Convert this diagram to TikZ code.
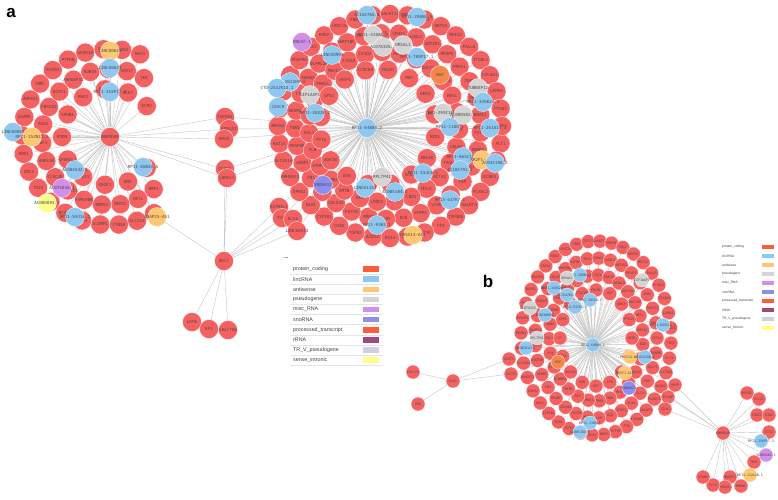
\documentclass[tikz,border=0pt]{standalone}
\usepackage{fontspec}
\setmainfont{Liberation Sans}
\setmonofont{DejaVu Sans Mono}
\usepackage{tikz}
\pgfdeclarelayer{back}
\pgfsetlayers{back,main}

\definecolor{pc}{RGB}{245,96,96}
\definecolor{linc}{RGB}{142,200,240}
\definecolor{anti}{RGB}{255,200,112}
\definecolor{pseudo}{RGB}{212,212,212}
\definecolor{misc}{RGB}{210,142,232}
\definecolor{sno}{RGB}{142,142,240}
\definecolor{proc}{RGB}{245,135,75}
\definecolor{sens}{RGB}{255,255,140}
\definecolor{lpc}{RGB}{255,92,62}
\definecolor{lrrna}{RGB}{160,72,130}
\definecolor{ltrv}{RGB}{208,208,224}

% labels may run past the circle
\newcommand{\glab}[1]{\makebox[0pt][c]{#1}}

\def\ringone{FLT1,SLC38A1,KCNK3,PLXDC2,GALNT5,TSPAN5,FTO,DSTYK,NRP2,RGS4,ACOX2,TGFB2,CD38,CYP1B1,NAV1,EPHX2,ARHGEF3,SLC2A14,RAI14,NRXN3,EFEMP1,THBS2,NUPR1,PDGFRA,GRIK2,ROR2,LRRC15,FBN2,TCF21,GALNT12,PRDM6,SOX2,WNT5A,MEIS2,PALLD,ITGBL1,COL8A1,LAMA4,PTGDS,TBX2}
\def\ringtwo{EDNRB,SULF1,FAP,GLI3,VCAN,SFRP2,DCN,LUM,MMP2,POSTN,COL5A2,SPARC,FN1,AEBP1,PDGFRB,FBN1,ADAM12,CTSK,MXRA5,OLFML2B,COL6A3,SERPINF1,IGFBP7,THY1,CDH11,LOXL2,ANTXR1,MFAP5,PRRX1,ZEB2,TWIST1,SNAI2,FSTL1}
\def\ringthree{CALD1,TAGLN,ACTA2,MYL9,CNN1,TPM2,LMOD1,DES,SMTN,KCNMB1,SYNPO2,PLN,FHL1,JAM2,RBPMS,PRKG1,MRVI1,ITGA8,CASQ2,SGCA,PDE5A,CACNA1C,GUCY1A3,NOTCH3,HEYL,MEF2C,ELN}
\def\ringfour{ABCA8,SCN7A,CFD,DPT,OGN,ADH1B,PI16,C7,GPX3,SVEP1,CCDC80,FBLN1,MGP,DKK3,PTGIS,NID1}

\begin{document}
\begin{tikzpicture}[x=1pt,y=-1pt]
  \tikzstyle{gene}=[circle,draw=white,line width=0.3pt,minimum size=19pt,inner sep=0pt,text=black!70,font=\fontsize{4.2}{4.2}\selectfont\ttfamily]
  \tikzstyle{gsmall}=[gene,minimum size=14pt,font=\fontsize{3.3}{3.3}\selectfont\ttfamily]
  \tikzstyle{link}=[draw=black!22,line width=0.4pt]
  \tikzstyle{legtext}=[anchor=west,inner sep=0pt,text=black!75,font=\fontsize{5.3}{5.3}\selectfont]
  \tikzstyle{legsmall}=[legtext,font=\fontsize{3.3}{3.3}\selectfont]

  \useasboundingbox (0,0) rectangle (778,499);

  % panel a
  \node[font=\bfseries\fontsize{17}{17}\selectfont] (lbla) at (11,13) {a};
  \node[gene,fill=linc] (ha) at (367,128) {\glab{RP11-64B84.2}};
  \node[gene,fill=pc] (la) at (110,137) {\glab{ANKRD49}};

  \coordinate (ca1) at (390,126);
  \coordinate (ca2) at (388,126);
  \coordinate (ca3) at (384,127);
  \coordinate (ca4) at (378,127);

  \foreach \gn [count=\i,evaluate=\i as \ang using 9*\i] in \ringone
    \node[gene,fill=pc] (ao\i) at ([shift={(\ang:112)}]ca1) {\glab{\gn}};
  \foreach \gn [count=\i,evaluate=\i as \ang using 4+360*\i/33] in \ringtwo
    \node[gene,fill=pc] (at\i) at ([shift={(\ang:93)}]ca2) {\glab{\gn}};
  \foreach \gn [count=\i,evaluate=\i as \ang using 2+360*\i/27] in \ringthree
    \node[gene,fill=pc] (ar\i) at ([shift={(\ang:75)}]ca3) {\glab{\gn}};
  \foreach \gn [count=\i,evaluate=\i as \ang using 10+22.5*\i] in \ringfour
    \node[gene,fill=pc] (af\i) at ([shift={(\ang:58)}]ca4) {\glab{\gn}};
  \foreach \px/\py/\ty/\gn [count=\i] in {367/15/linc/AC154765.1,417/17/linc/RP11-286N4.5,
      373/35/pseudo/RP11-420A6.2,383/47/pseudo/AC078325.1,403/45/pseudo/OR5AL1,
      417/57/linc/RP11-788P17.1,302/42/misc/RNU5F-1,332/55/linc/LINC00994,
      290/82/linc/CTC-2022H9.4,277/88/linc/CTD-2532K18.1,310/95/pseudo/EIF1AXP1,
      278/107/linc/CASC9,315/113/linc/RP11-38320.1,440/75/proc/HGF,
      478/88/pseudo/TUBB8P12,483/102/linc/RP11-345K20.1,443/113/pseudo/RP1-299I16.1,
      463/115/pseudo/AC009502.2,450/127/linc/RP11-1180.1,490/128/linc/RP11-261A14.3,
      463/157/linc/RP11-665C16.1,482/160/anti/NR2F1-AS1,495/163/linc/AC034198.2,
      460/170/linc/AC104791.2,382/177/pseudo/RPL7P41,423/173/linc/RP11-553C6.1,
      323/185/sno/SNORA12,365/188/linc/LINC01152,395/192/linc/AC005104.2,
      450/200/linc/RP13-537K7.1,377/225/linc/RP11-93H3.1,413/235/anti/PRSS14-AS1}
    \node[gene,fill=\ty] (as\i) at (\px,\py) {\glab{\gn}};

  \foreach \gn [count=\i,evaluate=\i as \ang using 60+(\i-1)*230/19] in {KIF1B,SLC2A3,CYB5B,SCAMP1,ENAH,NCALD,SYNPO,TRIO,EML2,ROR1,STAT5B,ADAM9,ZNF831,DMD,RSPO3,PTPRB,SH3D19,CDON,PDZD2,NAV3}
    \node[gene,fill=pc] (lo\i) at ([shift={(\ang:88)}]la) {\glab{\gn}};
  \foreach \gn [count=\i,evaluate=\i as \ang using 50+(\i-1)*250/16] in {NRP1,HEY1,MEOX2,RBMS3,FAM198B,PRICKLE1,CLEC3B,ANKS1B,EBF1,RGS5,FBXO32,DCHS1,ARHGAP31,ROBO4,SEMA3C,SOX17,TEK}
    \node[gene,fill=pc] (lt\i) at ([shift={(\ang:68)}]la) {\glab{\gn}};
  \foreach \gn [count=\i,evaluate=\i as \ang using 40+(\i-1)*280/10] in {PTPRM,BMX,DOCK1,MAGI1,SPARCL1,PODN,EPHB4,RHOJ,FLRT2,NEK7,ECM2}
    \node[gene,fill=pc] (lr\i) at ([shift={(\ang:48)}]la) {\glab{\gn}};
  \foreach \px/\py/\ty/\gn [count=\i] in {110/51/anti/LINC00620,110/68/linc/LINC00623,
      110/92/linc/RP11-316P17.1,13/132/linc/LINC00888,32/137/anti/RP11-152N13.1,
      75/170/linc/AC004542.1,62/188/misc/AC075044.1,47/203/sens/AC080893.1,
      75/217/linc/RP11-59J16.2,143/167/linc/RP11-80B43.5}
    \node[gene,fill=\ty] (ls\i) at (\px,\py) {\glab{\gn}};

  \node[gene,fill=pc] (m1) at (225,117) {\glab{TSPAN3}};
  \node[gene,fill=pc] (m2) at (229,129) {\glab{APOLD1}};
  \node[gene,fill=pc] (m3) at (224,139) {\glab{EMCN}};
  \node[gene,fill=pc] (m4) at (225,169) {\glab{CCND2}};
  \node[gene,fill=pc] (m5) at (227,178) {\glab{CHRDL1}};
  \node[gene,fill=pc] (odc) at (224,261) {\glab{ODC1}};
  \node[gene,fill=anti] (snap) at (157,217) {\glab{SNAP25-AS1}};
  \node[gene,fill=pc] (k1) at (279,207) {\glab{KATNAL1}};
  \node[gene,fill=pc] (k2) at (282,218) {\glab{TSC1}};
  \node[gene,fill=pc] (k3) at (293,219) {\glab{DLK1}};
  \node[gene,fill=pc] (k4) at (297,231) {\glab{LINC00313}};
  \node[gene,fill=pc] (d1) at (192,322) {\glab{LRP6}};
  \node[gene,fill=pc] (d2) at (209,329) {\glab{EFS}};
  \node[gene,fill=pc] (d3) at (228,330) {\glab{C8orf88}};

  % legend a
  \draw[black!35,line width=0.6pt] (284,257) -- (288,257);
  \foreach \t/\c [count=\k] in {protein\_coding/lpc,lincRNA/linc,antisense/anti,
      pseudogene/pseudo,misc\_RNA/misc,snoRNA/sno,processed\_transcript/lpc,
      rRNA/lrrna,TR\_V\_pseudogene/ltrv,sense\_intronic/sens}{
    \node[legtext] (lga\k) at (293,259+10.1*\k) {\t};
    \fill[\c] (363,259+10.1*\k-2.8) rectangle (379,259+10.1*\k+2.8);
    \draw[black!10,line width=0.3pt] (290,264+10.1*\k) -- (383,264+10.1*\k);
  }

  % panel b
  \node[font=\bfseries\fontsize{17}{17}\selectfont] (lblb) at (488,281) {b};
  \node[gsmall,fill=linc] (hb) at (593,345) {\glab{RP11-64B84.2}};
  \coordinate (cb) at (596,338);

  \foreach \gn [count=\i,evaluate=\i as \ang using 3+9*\i] in \ringone
    \node[gsmall,fill=pc] (bo\i) at ([shift={(\ang:75 and 97)}]cb) {\glab{\gn}};
  \foreach \gn [count=\i,evaluate=\i as \ang using 360*\i/33] in \ringtwo
    \node[gsmall,fill=pc] (bt\i) at ([shift={(\ang:61 and 80)}]cb) {\glab{\gn}};
  \foreach \gn [count=\i,evaluate=\i as \ang using 6+360*\i/27] in \ringthree
    \node[gsmall,fill=pc] (br\i) at ([shift={(\ang:47 and 63)}]cb) {\glab{\gn}};
  \foreach \gn [count=\i,evaluate=\i as \ang using 22.5*\i] in \ringfour
    \node[gsmall,fill=pc] (bf\i) at ([shift={(\ang:36 and 48)}]cb) {\glab{\gn}};
  \foreach \px/\py/\ty/\gn [count=\i] in {580/275/linc/RP11-286N4.5,567/278/pseudo/OR5AL1,
      642/280/pseudo/EIF1AXP1,554/288/linc/RP11-345K20.1,567/295/linc/AC154765.1,
      590/300/linc/RP11-38320.1,575/307/linc/RP13-537K7.1,530/308/pseudo/AC078325.1,
      545/315/linc/LINC00994,537/338/pseudo/RPL7P41,526/348/linc/LINC01152,
      663/325/linc/RP11-665C16.1,558/362/proc/HGF,630/357/anti/PRSS14-AS1,
      645/357/linc/AC034198.2,625/373/anti/NR2F1-AS1,629/388/sno/SNORA12,
      590/423/linc/RP11-1180.1,580/432/linc/AC005104.2}
    \node[gsmall,fill=\ty] (bs\i) at (\px,\py) {\glab{\gn}};

  \node[gsmall,fill=pc] (elk) at (453,381) {\glab{ELK3}};
  \node[gsmall,fill=pc] (e1) at (413,372) {\glab{C9orf3}};
  \node[gsmall,fill=pc] (e2) at (418,404) {\glab{ERG}};
  \node[gsmall,fill=pc] (e3) at (509,359) {\glab{GCNT1}};
  \node[gsmall,fill=pc] (e4) at (511,374) {\glab{SLIT3}};
  \node[gsmall,fill=pc] (kb) at (723,433) {\glab{ANKRD49}};
  \node[gsmall,fill=pc] (n1) at (675,385) {\glab{HHIP}};
  \node[gsmall,fill=pc] (n2) at (668,397) {\glab{PLVAP}};
  \node[gsmall,fill=pc] (n3) at (665,409) {\glab{CD34}};
  \foreach \px/\py/\ty/\gn [count=\i] in {747/393/pc/RSPO2,759/399/pc/CCL21,
      757/415/pc/FOXC2,769/415/pc/GJA4,769/432/pc/ETS2,761/441/linc/RP11-356P17.3,
      766/455/misc/AC009262.1,754/462/pc/TBX1,750/475/anti/RP11-112L20.1,
      741/486/pc/MMRN1,730/477/pc/ANGPT2,725/487/pc/PROX1,713/485/pc/FLT4,703/477/pc/STAB2}
    \node[gsmall,fill=\ty] (kc\i) at (\px,\py) {\glab{\gn}};

  % legend b
  \foreach \t/\c [count=\k] in {protein\_coding/lpc,lincRNA/linc,antisense/anti,
      pseudogene/pseudo,misc\_RNA/misc,snoRNA/sno,processed\_transcript/lpc,
      rRNA/lrrna,TR\_V\_pseudogene/ltrv,sense\_intronic/sens}{
    \node[legsmall] (lgb\k) at (722,238+9*\k) {\t};
    \fill[\c] (762,238+9*\k-2.2) rectangle (774,238+9*\k+2.2);
  }

  % edges, all behind the nodes
  \begin{pgfonlayer}{back}
    \fill[white] (0,0) rectangle (778,499);
    \foreach \i in {1,...,40} \draw[link] (ha) -- (ao\i) (hb) -- (bo\i);
    \foreach \i in {1,...,33} \draw[link] (ha) -- (at\i) (hb) -- (bt\i);
    \foreach \i in {1,...,27} \draw[link] (ha) -- (ar\i) (hb) -- (br\i);
    \foreach \i in {1,...,16} \draw[link] (ha) -- (af\i) (hb) -- (bf\i);
    \foreach \i in {1,...,32} \draw[link] (ha) -- (as\i);
    \foreach \i in {1,...,19} \draw[link] (hb) -- (bs\i);
    \foreach \i in {1,...,20} \draw[link] (la) -- (lo\i);
    \foreach \i in {1,...,17} \draw[link] (la) -- (lt\i);
    \foreach \i in {1,...,11} \draw[link] (la) -- (lr\i);
    \foreach \i in {1,...,10} \draw[link] (la) -- (ls\i);
    \foreach \m in {m1,m2,m3,m4,m5}
      \draw[link] (la) -- (\m) (\m) -- (ha);
    \foreach \k in {k1,k2,k3,k4}
      \draw[link] (odc) -- (\k) (\k) -- (ha);
    \draw[link] (la) -- (snap) -- (odc);
    \draw[link] (m4) -- (odc) (m5) -- (odc);
    \draw[link] (odc) -- (d1) (odc) -- (d2) (odc) -- (d3);
    \draw[link] (e1) -- (elk) -- (e2) (elk) -- (e3) (elk) -- (e4);
    \draw[link] (e3) -- (hb) (e4) -- (hb) (kb) -- (hb);
    \foreach \n in {n1,n2,n3}
      \draw[link] (hb) -- (\n) -- (kb);
    \foreach \i in {1,...,14} \draw[link] (kb) -- (kc\i);
  \end{pgfonlayer}
\end{tikzpicture}
\end{document}
